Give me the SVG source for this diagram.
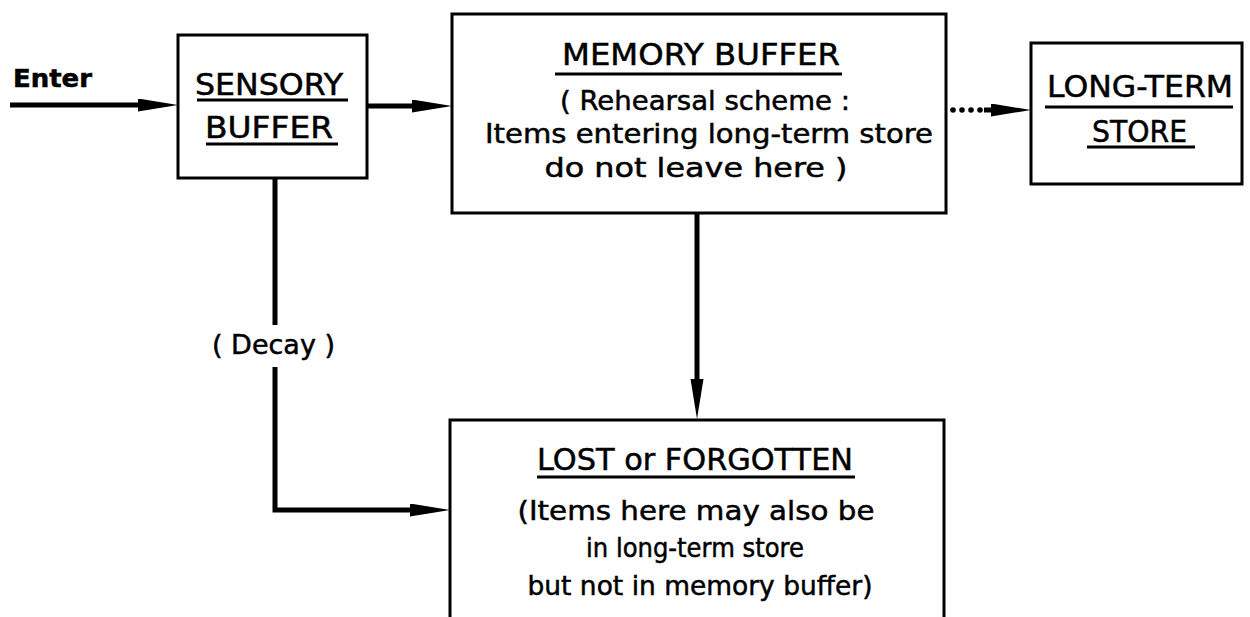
<svg xmlns="http://www.w3.org/2000/svg" width="1250" height="617" viewBox="0 0 1250 617">
<defs>
<marker id="ah" markerUnits="userSpaceOnUse" markerWidth="40" markerHeight="14" refX="5" refY="6.5" orient="auto">
<path d="M0,0 L40,6.5 L0,13 z" fill="#000"/>
</marker>
<style>
.box{fill:#fff;stroke:#000;stroke-width:3}
.t{font-family:"DejaVu Sans","Liberation Sans",Arial,sans-serif;font-size:27px;fill:#000;stroke:#000;stroke-width:0.5;text-anchor:middle}
.h{font-size:30px}
.ul{stroke:#000;stroke-width:3}
.arr{fill:none;stroke:#000;stroke-width:5;marker-end:url(#ah)}
.ln{fill:none;stroke:#000;stroke-width:5}
</style>
</defs>
<rect width="1250" height="617" fill="#fff"/>
<g id="connectors">
<line class="arr" x1="10" y1="105" x2="143" y2="105"/>
<line class="arr" x1="367" y1="106" x2="417" y2="106"/>
<line class="arr" x1="697" y1="213" x2="697" y2="384"/>
<line class="ln" x1="275" y1="178" x2="275" y2="325"/>
<path class="arr" d="M275,367 V510 H415"/>
<g fill="#000"><circle cx="953" cy="110" r="2.8"/><circle cx="962" cy="110" r="2.8"/><circle cx="971" cy="110" r="2.8"/><circle cx="980" cy="110" r="2.8"/></g>
<line class="arr" x1="984" y1="110" x2="996" y2="110" stroke-width="3"/>
<text class="t" x="273.5" y="354" textLength="123" lengthAdjust="spacingAndGlyphs">( Decay )</text>
<text class="t" x="13" y="87" style="text-anchor:start;font-weight:bold;font-size:24px" textLength="79" lengthAdjust="spacingAndGlyphs">Enter</text>
</g>
<g id="sensory">
<rect class="box" x="178" y="35" width="189" height="143"/>
<text class="t h" x="269" y="95" textLength="148" lengthAdjust="spacingAndGlyphs">SENSORY</text>
<line class="ul" x1="197" y1="100" x2="348" y2="100"/>
<text class="t h" x="269" y="138" textLength="128" lengthAdjust="spacingAndGlyphs">BUFFER</text>
<line class="ul" x1="206" y1="144" x2="338" y2="144"/>
</g>
<g id="memory">
<rect class="box" x="452" y="14" width="494" height="199"/>
<text class="t h" x="701" y="65" textLength="278" lengthAdjust="spacingAndGlyphs">MEMORY BUFFER</text>
<line class="ul" x1="555" y1="74" x2="842" y2="74"/>
<text class="t" x="705" y="110" textLength="290" lengthAdjust="spacingAndGlyphs">( Rehearsal scheme :</text>
<text class="t" x="709" y="143" textLength="448" lengthAdjust="spacingAndGlyphs">Items entering long-term store</text>
<text class="t" x="696" y="177" textLength="303" lengthAdjust="spacingAndGlyphs">do not leave here )</text>
</g>
<g id="longterm">
<rect class="box" x="1031" y="43" width="211" height="141"/>
<text class="t h" x="1140" y="97" textLength="186" lengthAdjust="spacingAndGlyphs">LONG-TERM</text>
<line class="ul" x1="1045" y1="107" x2="1233" y2="107"/>
<text class="t h" x="1139.5" y="142" textLength="95" lengthAdjust="spacingAndGlyphs">STORE</text>
<line class="ul" x1="1087" y1="147" x2="1195" y2="147"/>
</g>
<g id="lost">
<path class="box" d="M450,630 V420 H944 V630"/>
<text class="t h" x="695" y="470" textLength="316" lengthAdjust="spacingAndGlyphs">LOST or FORGOTTEN</text>
<line class="ul" x1="537" y1="477" x2="855" y2="477"/>
<text class="t" x="696" y="520" textLength="357" lengthAdjust="spacingAndGlyphs">(Items here may also be</text>
<text class="t" x="695" y="557" textLength="218" lengthAdjust="spacingAndGlyphs">in long-term store</text>
<text class="t" x="700" y="595" textLength="345" lengthAdjust="spacingAndGlyphs">but not in memory buffer)</text>
</g>
</svg>
